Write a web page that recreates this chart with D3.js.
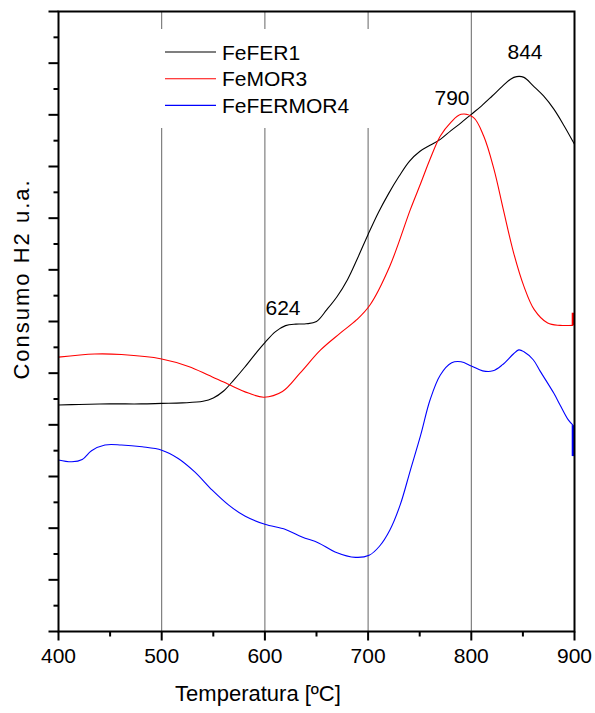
<!DOCTYPE html>
<html><head><meta charset="utf-8">
<script src="https://cdn.jsdelivr.net/npm/d3@7"></script>
<style>body{margin:0;background:#fff}svg{display:block}text{font-family:"Liberation Sans",Arial,sans-serif;fill:#000}</style>
</head><body><svg id="c" width="595" height="713"></svg>
<script>
const seriesNames = ["FeFER1", "FeMOR3", "FeFERMOR4"];
const seriesColors = ["#000000", "#ff0000", "#0000ff"];
const xTicks = [400, 500, 600, 700, 800, 900];
const gridTemps = [500, 600, 700, 800];
const annotations = [{t: 624, label: "624"}, {t: 790, label: "790"}, {t: 844, label: "844"}];

const fefer1T = [400,420,450,480,500,520,540,550,560,570,580,590,600,610,620,630,640,650,660,670,680,690,700,710,720,730,740,750,760,770,780,790,800,810,820,830,838,844,851,860,870,880,890,900];
const fefer1V = [8.77,8.79,8.81,8.81,8.83,8.85,8.91,9.04,9.31,9.74,10.21,10.71,11.18,11.60,11.84,11.90,11.91,12.00,12.46,12.97,13.62,14.47,15.37,16.22,16.96,17.62,18.20,18.58,18.82,19.05,19.38,19.69,20.02,20.35,20.72,21.10,21.38,21.48,21.45,21.12,20.73,20.22,19.57,18.86];

const femor3T = [400,435,461,500,526,545,564,584,599,617,634,654,673,689,702,721,741,751,760,770,780,790,802,812,822,831,841,851,861,874,886,898.5,898.5];
const femor3V = [10.62,10.74,10.72,10.55,10.26,9.93,9.58,9.23,9.07,9.29,10.00,10.90,11.55,12.07,12.65,14.14,16.34,17.35,18.28,19.18,19.70,20.02,19.90,19.18,17.89,16.34,14.66,13.36,12.46,11.94,11.85,11.85,12.34];

const fefermor4T = [400,413,423,432,445,461,481,500,516,532,549,565,581,600,620,636,652,668,688,701,711,721,731,741,751,760,770,781,790,800,811,821,830,841,846,851,860,867,880,886,894,898.5,898.5];
const fefermor4V = [6.64,6.57,6.66,7.00,7.22,7.22,7.15,7.02,6.70,6.18,5.47,4.89,4.46,4.15,3.95,3.66,3.43,3.08,2.87,2.95,3.30,3.92,4.89,6.25,7.61,8.96,9.93,10.40,10.44,10.28,10.09,10.09,10.32,10.75,10.90,10.83,10.52,10.06,9.22,8.77,8.19,7.99,6.79];

const allT = [fefer1T, femor3T, fefermor4T];
const allV = [fefer1V, femor3V, fefermor4V];

const svg = d3.select("#c");
const L = 58.5, R = 574.5, T = 11.5, B = 631.5;
const x = d3.scaleLinear().domain([400, 900]).range([L, R]);
const y = d3.scaleLinear().domain([0, 24]).range([B, T]);

// grid lines
svg.append("g").selectAll("line").data(gridTemps).join("line")
  .attr("x1", d => x(d)).attr("x2", d => x(d)).attr("y1", T).attr("y2", B)
  .attr("stroke", "#666").attr("stroke-width", 1);
// legend mask
svg.append("rect").attr("x", 150).attr("y", 29).attr("width", 230).attr("height", 99).attr("fill", "#fff");

// curves: smooth part, then the final vertical step drawn straight
const smooth = d3.line().x(d => x(d[0])).y(d => y(d[1])).curve(d3.curveCatmullRom.alpha(0.5));
const straight = d3.line().x(d => x(d[0])).y(d => y(d[1]));
allT.forEach((ts, i) => {
  const pts = ts.map((t, j) => [t, allV[i][j]]);
  const n = pts.length;
  const hasStep = i > 0 && pts[n - 1][0] === pts[n - 2][0];
  const main = hasStep ? pts.slice(0, n - 1) : pts;
  svg.append("path").datum(main).attr("d", smooth).attr("fill", "none")
    .attr("stroke", seriesColors[i]).attr("stroke-width", 1.1);
  if (hasStep) {
    svg.append("path").datum(pts.slice(n - 2)).attr("d", straight).attr("fill", "none")
      .attr("stroke", seriesColors[i]).attr("stroke-width", 2.5);
  }
});

// frame
svg.append("rect").attr("x", L).attr("y", T).attr("width", R - L).attr("height", B - T)
  .attr("fill", "none").attr("stroke", "#000").attr("stroke-width", 2);

// x axis ticks
const xMinor = d3.range(400, 901, 50);
svg.append("g").selectAll("line").data(xMinor).join("line")
  .attr("x1", d => x(d)).attr("x2", d => x(d)).attr("y1", B)
  .attr("y2", d => B + (d % 100 === 0 ? 9 : 5)).attr("stroke", "#000").attr("stroke-width", 2);
svg.append("g").selectAll("text").data(xTicks).join("text")
  .attr("x", d => x(d)).attr("y", 663).attr("text-anchor", "middle").attr("font-size", 21).text(d => d);

// y axis ticks
svg.append("g").selectAll("line").data(d3.range(0, 25)).join("line")
  .attr("x1", L).attr("x2", d => L - (d % 2 === 0 ? 10 : 5))
  .attr("y1", d => y(d)).attr("y2", d => y(d)).attr("stroke", "#000").attr("stroke-width", 2);

// axis titles
svg.append("text").attr("x", 258).attr("y", 701).attr("text-anchor", "middle").attr("font-size", 22).text("Temperatura [ºC]");
svg.append("text").attr("transform", "translate(29,279) rotate(-90)").attr("text-anchor", "middle")
  .attr("font-size", 22).attr("letter-spacing", 2).text("Consumo H2 u.a.");

// legend
seriesNames.forEach((n, i) => {
  const yy = 52 + i * 26.7;
  svg.append("line").attr("x1", 165).attr("x2", 216).attr("y1", yy).attr("y2", yy)
    .attr("stroke", seriesColors[i]).attr("stroke-width", 1.1);
  svg.append("text").attr("x", 222).attr("y", yy + 7.5).attr("font-size", 21).text(n);
});

// annotations
const annY = {624: 315, 790: 105, 844: 59};
const annX = {624: 283, 790: 452, 844: 525};
annotations.forEach(a => {
  svg.append("text").attr("x", annX[a.t]).attr("y", annY[a.t]).attr("text-anchor", "middle")
    .attr("font-size", 21).text(a.label);
});
</script></body></html>
